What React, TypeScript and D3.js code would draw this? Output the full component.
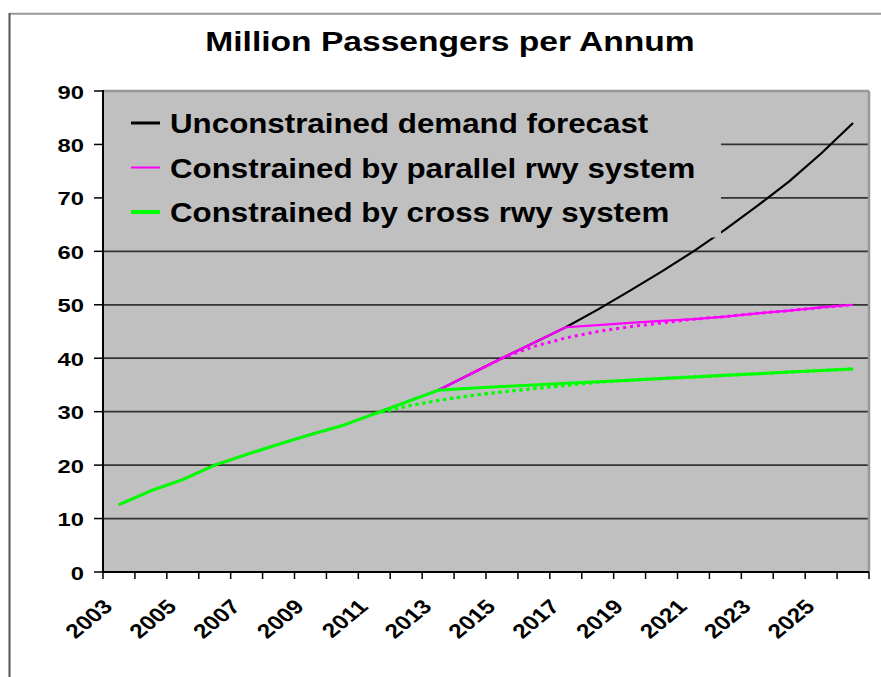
import React from 'react';
import * as d3 from 'd3';

const title = 'Million Passengers per Annum';
const years = [2003, 2004, 2005, 2006, 2007, 2008, 2009, 2010, 2011, 2012, 2013, 2014,
  2015, 2016, 2017, 2018, 2019, 2020, 2021, 2022, 2023, 2024, 2025, 2026];
const xTickLabels = ['2003', '2005', '2007', '2009', '2011', '2013', '2015', '2017', '2019', '2021', '2023', '2025'];
const yTicks = [0, 10, 20, 30, 40, 50, 60, 70, 80, 90];

const unconstrained = [12.6, 15.2, 17.3, 20.0, 22.0, 23.9, 25.7, 27.4, 29.6, 31.8, 34.0, 37.0,
  40.0, 42.9, 45.8, 49.1, 52.6, 56.2, 60.0, 64.1, 68.5, 73.1, 78.3, 84.0];
const parallelSolid = [null, null, null, null, null, null, null, null, null, null, 34.0, 37.0,
  40.0, 42.9, 45.8, 46.2, 46.6, 47.0, 47.3, 47.8, 48.4, 48.9, 49.5, 50.0];
const parallelDotted = [null, null, null, null, null, null, null, null, null, null, null, 37.0,
  40.0, 42.2, 43.8, 45.0, 45.9, 46.6, 47.3, 47.8, 48.4, 48.9, 49.5, 50.0];
const crossSolid = [12.6, 15.2, 17.3, 20.0, 22.0, 23.9, 25.7, 27.4, 29.6, 31.8, 34.0, 34.4,
  34.7, 35.0, 35.3, 35.6, 35.9, 36.2, 36.5, 36.8, 37.1, 37.4, 37.7, 38.0];
const crossDotted = [null, null, null, null, null, null, null, null, 29.6, 31.0, 32.1, 33.0,
  33.7, 34.3, 34.9, 35.5, 35.9, 36.2, 36.5, 36.8, 37.1, 37.4, 37.7, 38.0];

const legendLabels = ['Unconstrained demand forecast', 'Constrained by parallel rwy system', 'Constrained by cross rwy system'];
const legendColors = ['#000000', '#ff00ff', '#00ff00'];
const legendWidths = [3, 2, 4];

const W = 881, H = 677;
const L = 103, R = 869, T = 91, B = 572;
const FONT = '"Liberation Sans", Arial, sans-serif';

export default function App() {
  const x = d3.scaleBand<number>().domain(years).range([L, R]).padding(0);
  const cx = (yr: number) => (x(yr) as number) + x.bandwidth() / 2;
  const y = d3.scaleLinear().domain([0, 90]).range([B, T]);

  const mk = (vals: (number | null)[]) =>
    d3.line<number | null>()
      .defined((d) => d !== null)
      .x((_, i) => cx(years[i]))
      .y((d) => y(d as number))(vals) || '';

  const boundaries = [...years.map((yr) => x(yr) as number), R];

  return (
    <svg width={W} height={H} style={{ position: 'absolute', left: 0, top: 0, background: '#fff' }}>
      {/* outer frame */}
      <line x1={9.5} y1={13.7} x2={W} y2={13.7} stroke="#999" strokeWidth={2} />
      <line x1={9.5} y1={13} x2={9.5} y2={H} stroke="#555" strokeWidth={2} />

      <text x={0} y={0} transform={`translate(450,51) scale(1.2,1)`} textAnchor="middle"
        fontFamily={FONT} fontWeight="bold" fontSize={28} fill="#000">{title}</text>

      {/* plot area */}
      <rect x={L} y={T} width={R - L} height={B - T} fill="#c0c0c0" />
      {yTicks.filter((t) => t > 0 && t < 90).map((t) => (
        <line key={'g' + t} x1={L} x2={R} y1={y(t)} y2={y(t)} stroke="#333" strokeWidth={1.8} />
      ))}
      <line x1={L} x2={R} y1={T} y2={T} stroke="#999" strokeWidth={2.5} />
      <line x1={R} x2={R} y1={T} y2={B} stroke="#999" strokeWidth={2.5} />

      {/* series */}
      <path d={mk(unconstrained)} fill="none" stroke="#000" strokeWidth={2.2} strokeLinejoin="round" />
      <path d={mk(parallelSolid)} fill="none" stroke="#ff00ff" strokeWidth={2.2} strokeLinejoin="round" />
      <path d={mk(parallelDotted)} fill="none" stroke="#ff00ff" strokeWidth={3} strokeDasharray="3 4" />
      <path d={mk(crossDotted)} fill="none" stroke="#00ff00" strokeWidth={3.2} strokeDasharray="3.5 3.5" />
      <path d={mk(crossSolid)} fill="none" stroke="#00ff00" strokeWidth={3} strokeLinejoin="round" />

      {/* legend */}
      <rect x={L + 1} y={T + 2} width={721 - L - 1} height={237.5 - T - 2} fill="#c0c0c0" />
      {legendLabels.map((lab, i) => {
        const cy = 123 + i * 44.5;
        return (
          <g key={lab}>
            <line x1={131} x2={160} y1={cy} y2={cy} stroke={legendColors[i]} strokeWidth={legendWidths[i]} />
            <text x={0} y={0} transform={`translate(170,${cy + 10}) scale(1.16,1)`}
              fontFamily={FONT} fontWeight="bold" fontSize={27} fill="#000">{lab}</text>
          </g>
        );
      })}

      {/* axes */}
      <line x1={L} x2={L} y1={T - 1} y2={B} stroke="#000" strokeWidth={2} />
      <line x1={L} x2={R} y1={B} y2={B} stroke="#000" strokeWidth={2} />
      {yTicks.map((t) => (
        <g key={'y' + t}>
          <line x1={94} x2={L} y1={y(t)} y2={y(t)} stroke="#000" strokeWidth={1.5} />
          <text x={0} y={0} transform={`translate(84,${y(t) + 7.5}) scale(1.25,1)`} textAnchor="end"
            fontFamily={FONT} fontWeight="bold" fontSize={19} fill="#000">{t}</text>
        </g>
      ))}
      {boundaries.map((bx, i) => (
        <line key={'xt' + i} x1={bx} x2={bx} y1={B} y2={B + 7} stroke="#000" strokeWidth={1.5} />
      ))}
      {xTickLabels.map((lab) => {
        const px = cx(+lab) - 5;
        return (
          <text key={lab} x={0} y={0} transform={`translate(${px},${B + 36}) scale(1.22,1) rotate(-45)`}
            textAnchor="end" fontFamily={FONT} fontWeight="bold" fontSize={20} fill="#000">{lab}</text>
        );
      })}
    </svg>
  );
}
